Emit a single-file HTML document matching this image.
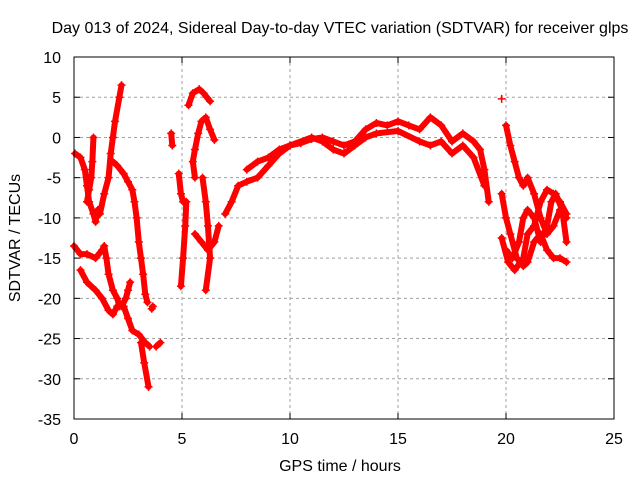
<!DOCTYPE html>
<html><head><meta charset="utf-8"><style>
body{margin:0;background:#fff}
svg{display:block;font-family:"Liberation Sans",sans-serif}
</style></head><body>
<svg id="chart" width="640" height="480" viewBox="0 0 640 480">
<rect width="640" height="480" fill="#fff"/>
<text x="340" y="33" font-size="16" text-anchor="middle">Day 013 of 2024, Sidereal Day-to-day VTEC variation (SDTVAR) for receiver glps</text>
<g id="grid"></g>
<g id="series"></g>
<rect x="74" y="57" width="540" height="362" fill="none" stroke="#000" stroke-width="1"/>
<g id="ticks"></g>
<text x="340" y="471" font-size="16" text-anchor="middle">GPS time / hours</text>
<text transform="translate(20,238) rotate(-90)" font-size="16" text-anchor="middle">SDTVAR / TECUs</text>
</svg>
<script>
const xTicks=[0,5,10,15,20,25];
const yTicks=[10,5,0,-5,-10,-15,-20,-25,-30,-35];
const trackA=[[0.3,-16.5],[0.6,-18],[1.0,-19],[1.3,-20],[1.6,-21.5],[1.8,-22],[2.0,-21],[2.3,-21],[2.5,-22.5],[2.7,-24],[3.0,-24.5],[3.3,-25.5],[3.5,-26]];
const trackB=[[0.05,-2],[0.3,-2.5],[0.5,-4],[0.6,-6],[0.7,-8],[0.9,-9.5],[1.0,-10.5],[1.1,-9]];
const trackC=[[0.9,0],[0.85,-3],[0.8,-5],[0.7,-6.5],[0.6,-8]];
const trackD=[[1.2,-9.5],[1.4,-7],[1.6,-5],[1.7,-2],[1.8,0],[1.9,2],[2.1,5],[2.2,6.5]];
const trackE=[[1.8,-3],[2.0,-3.5],[2.3,-4.5],[2.5,-5.5],[2.7,-6.5],[2.8,-8],[2.9,-10],[3.0,-13],[3.1,-15],[3.2,-17],[3.3,-19.5],[3.4,-20.5]];
const trackF=[[0,-13.5],[0.3,-14.5],[0.6,-14.5],[1.0,-15],[1.3,-14],[1.4,-13.5],[1.5,-15],[1.6,-17],[1.8,-19],[2.0,-20],[2.1,-21],[2.2,-21],[2.4,-20],[2.5,-19],[2.6,-18]];
const trackG=[[3.1,-25.5],[3.25,-28],[3.45,-31]];
const trackH=[[3.6,-21.3],[3.65,-21]];
const trackI=[[3.8,-26],[4.0,-25.5]];
const trackJ=[[4.5,0.5],[4.55,-1]];
const trackK=[[4.85,-4.5],[4.95,-7],[5.05,-8]];
const trackL=[[4.95,-18.5],[5.05,-15],[5.15,-11],[5.2,-8]];
const trackM=[[5.6,-5],[5.5,-3],[5.6,-1.5],[5.75,0.5],[5.9,2],[6.1,2.5],[6.3,1],[6.5,-0.3]];
const trackN=[[5.3,4],[5.5,5.5],[5.8,6],[6.0,5.5],[6.3,4.5]];
const trackO=[[5.6,-12],[5.9,-13],[6.2,-14],[6.5,-13],[6.7,-11]];
const trackP=[[5.95,-5],[6.1,-8],[6.2,-11],[6.3,-15],[6.1,-19]];
const trackQ=[[7.0,-9.5],[7.3,-8],[7.6,-6],[8.0,-5.5],[8.5,-5],[9.0,-3.5],[9.5,-2],[10,-1],[10.5,-0.7],[11,-0.2],[11.5,0],[12,-0.5],[12.5,-1],[13,-0.5],[13.5,1],[14,1.8],[14.5,1.5],[15,2],[15.5,1.5],[16,1],[16.5,2.5],[17,1.5],[17.5,-0.5],[18,0.5],[18.5,-0.5],[18.8,-1.5],[19,-4],[19.2,-8]];
const trackR=[[8.0,-4],[8.5,-3],[9,-2.5],[9.5,-1.5],[10,-1],[11,0],[11.5,-0.5],[12,-1.5],[12.5,-2],[13,-1],[13.5,0],[14,0.5],[15,0.8],[16,-0.5],[16.5,-1],[17,-0.5],[17.5,-2],[18,-1],[18.5,-2.5],[19,-6]];
const trackS=[[19.8,4.8]];
const trackT=[[20,1.5],[20.2,-1],[20.4,-3],[20.6,-5],[20.8,-6],[21,-5],[21.3,-7],[21.6,-10],[21.9,-12],[22.2,-11],[22.5,-9],[22.8,-10]];
const trackU=[[19.8,-7],[20,-10],[20.2,-12],[20.5,-15],[20.8,-16],[21,-15.5],[21.3,-13],[21.6,-12],[21.9,-14],[22.2,-15],[22.5,-15],[22.8,-15.5]];
const trackV=[[20,-14],[20.3,-15],[20.6,-13],[20.8,-10],[21,-9],[21.3,-10],[21.6,-13],[21.9,-11],[22.1,-8],[22.3,-7],[22.6,-9],[22.8,-13]];
const trackW=[[19.8,-12.5],[20.1,-15.5],[20.4,-16.5],[20.8,-15],[21,-12],[21.3,-11],[21.6,-8],[21.9,-6.5],[22.2,-7],[22.5,-8],[22.8,-9.5]];
const tracks=[trackA,trackB,trackC,trackD,trackE,trackF,trackG,trackH,trackI,trackJ,trackK,trackL,trackM,trackN,trackO,trackP,trackQ,trackR,trackS,trackT,trackU,trackV,trackW];

const NS="http://www.w3.org/2000/svg";
const X0=74,X1=614,Y0=419,Y1=57;
function sx(v){return X0+(v-0)/25*(X1-X0);}
function sy(v){return Y0-(v+35)/45*(Y0-Y1);}
function mk(tag,attrs,parent){const e=document.createElementNS(NS,tag);for(const k in attrs)e.setAttribute(k,attrs[k]);parent.appendChild(e);return e;}
const grid=document.getElementById('grid'),ticks=document.getElementById('ticks'),ser=document.getElementById('series');
xTicks.forEach(t=>{
  const x=sx(t);
  if(t>0&&t<25){const l=mk('line',{x1:x,x2:x,y1:Y1,y2:Y0,stroke:'#a0a0a0','stroke-dasharray':'3,3'},grid);
  
  }
  mk('line',{x1:x,x2:x,y1:Y0,y2:Y0-6,stroke:'#000'},ticks);
  mk('line',{x1:x,x2:x,y1:Y1,y2:Y1+6,stroke:'#000'},ticks);
  const tx=mk('text',{x:x,y:Y0+25,'font-size':'16','text-anchor':'middle'},ticks);
  tx.textContent=t;
  
  
});
yTicks.forEach(t=>{
  const y=sy(t);
  if(t<10&&t>-35){const l=mk('line',{x1:X0,x2:X1,y1:y,y2:y,stroke:'#a0a0a0','stroke-dasharray':'3,3'},grid);
  
  }
  mk('line',{x1:X0,x2:X0+6,y1:y,y2:y,stroke:'#000'},ticks);
  mk('line',{x1:X1,x2:X1-6,y1:y,y2:y,stroke:'#000'},ticks);
  const tx=mk('text',{x:X0-13,y:y+6,'font-size':'16','text-anchor':'end'},ticks);
  tx.textContent=t;
  
  
});
tracks.forEach(tr=>{
  const pts=tr.map(p=>sx(p[0])+','+sy(p[1])).join(' ');
  if(tr.length>1){const pl=mk('polyline',{points:pts,fill:'none',stroke:'#f00','stroke-width':'6','stroke-linejoin':'round','stroke-linecap':'round'},ser);
  
  }
  tr.forEach(p=>{
    const x=sx(p[0]),y=sy(p[1]);
    const m=mk('path',{d:`M${x-4},${y}H${x+4}M${x},${y-4}V${y+4}`,stroke:'#f00','stroke-width':'1.5'},ser);
    
    
  });
});
</script>
</body></html>
